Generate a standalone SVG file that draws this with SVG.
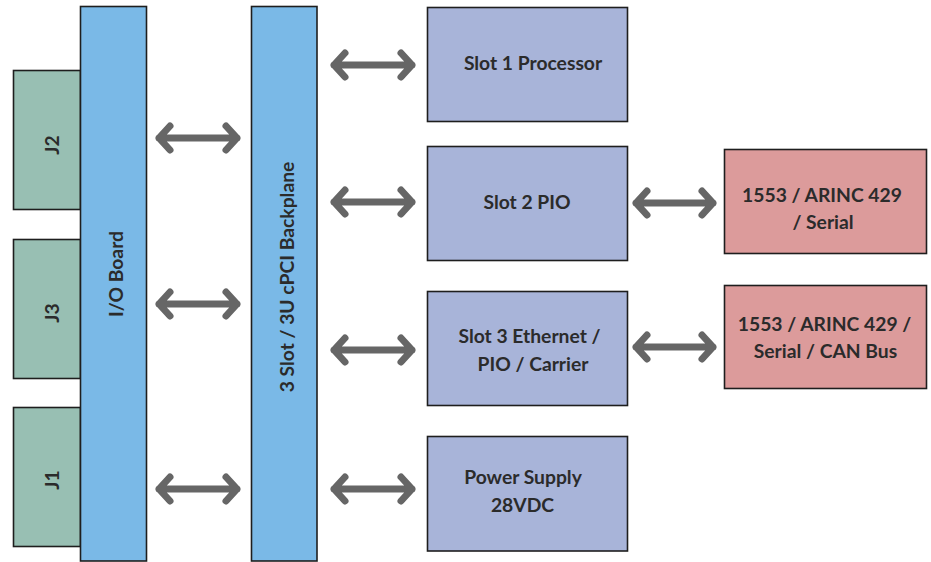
<svg xmlns="http://www.w3.org/2000/svg" width="931" height="562" viewBox="0 0 931 562">
  <style>
    .box { stroke: #1e1e1e; stroke-width: 1.6; }
    .conn { fill: #98bfb3; }
    .board { fill: #7ab9e7; }
    .slot { fill: #a8b4d9; }
    .ext { fill: #dc9b9b; }
    .lbl { font-family: Lato, "Open Sans", sans-serif; font-weight: 700; font-size: 19.3px; fill: #2b2b2b; text-anchor: middle; dominant-baseline: central; }
    .arrow { fill: none; stroke: #666666; stroke-width: 7; stroke-linecap: round; stroke-linejoin: round; }
  </style>
  <rect width="931" height="562" fill="#ffffff"/>

  <!-- connectors -->
  <g id="connectors">
    <path class="arrow" d="M170 126 L159 138 L170 150 M159 138 L237 138 M226 126 L237 138 L226 150"/>
    <path class="arrow" d="M170 292 L159 304 L170 316 M159 304 L237 304 M226 292 L237 304 L226 316"/>
    <path class="arrow" d="M170 477 L159 489 L170 501 M159 489 L237 489 M226 477 L237 489 L226 501"/>
    <path class="arrow" d="M345 53 L334 65 L345 77 M334 65 L412 65 M401 53 L412 65 L401 77"/>
    <path class="arrow" d="M345 190 L334 202 L345 214 M334 202 L412 202 M401 190 L412 202 L401 214"/>
    <path class="arrow" d="M345 338 L334 350 L345 362 M334 350 L412 350 M401 338 L412 350 L401 362"/>
    <path class="arrow" d="M345 477 L334 489 L345 501 M334 489 L412 489 M401 477 L412 489 L401 501"/>
    <path class="arrow" d="M647 191 L636 203 L647 215 M636 203 L713 203 M702 191 L713 203 L702 215"/>
    <path class="arrow" d="M647 335 L636 347 L647 359 M636 347 L713 347 M702 335 L713 347 L702 359"/>
  </g>

  <g id="j2">
    <rect class="box conn" x="13.5" y="70.5" width="67" height="139"/>
    <text class="lbl" transform="translate(51 145) rotate(-90)">J2</text>
  </g>
  <g id="j3">
    <rect class="box conn" x="13.5" y="239.5" width="67" height="139"/>
    <text class="lbl" transform="translate(51 313) rotate(-90)">J3</text>
  </g>
  <g id="j1">
    <rect class="box conn" x="13.5" y="407.5" width="67" height="139"/>
    <text class="lbl" transform="translate(51 480) rotate(-90)">J1</text>
  </g>

  <g id="io-board">
    <rect class="box board" x="80.5" y="6.5" width="66" height="554.5"/>
    <text class="lbl" transform="translate(115 274) rotate(-90)">I/O Board</text>
  </g>

  <g id="backplane">
    <rect class="box board" x="251.5" y="6.5" width="65.5" height="554.5"/>
    <text class="lbl" transform="translate(286 277) rotate(-90)">3 Slot / 3U cPCI Backplane</text>
  </g>

  <g id="slot1">
    <rect class="box slot" x="427.5" y="7.5" width="200" height="114"/>
    <text class="lbl" x="533" y="62">Slot 1 Processor</text>
  </g>
  <g id="slot2">
    <rect class="box slot" x="427.5" y="146.5" width="200" height="114"/>
    <text class="lbl" x="527" y="201">Slot 2 PIO</text>
  </g>
  <g id="slot3">
    <rect class="box slot" x="427.5" y="291.5" width="200" height="114"/>
    <text class="lbl" x="529.5" y="335">Slot 3 Ethernet /</text>
    <text class="lbl" x="533" y="363">PIO / Carrier</text>
  </g>
  <g id="power">
    <rect class="box slot" x="427.5" y="436.5" width="200" height="114.5"/>
    <text class="lbl" x="523" y="476">Power Supply</text>
    <text class="lbl" x="522.5" y="504">28VDC</text>
  </g>

  <g id="io-serial">
    <rect class="box ext" x="724.5" y="149.5" width="202" height="104"/>
    <text class="lbl" x="822" y="194">1553 / ARINC 429</text>
    <text class="lbl" x="823" y="221">/ Serial</text>
  </g>
  <g id="io-can">
    <rect class="box ext" x="724.5" y="285.5" width="202" height="103"/>
    <text class="lbl" x="824.5" y="323">1553 / ARINC 429 /</text>
    <text class="lbl" x="825.5" y="350">Serial / CAN Bus</text>
  </g>
</svg>
